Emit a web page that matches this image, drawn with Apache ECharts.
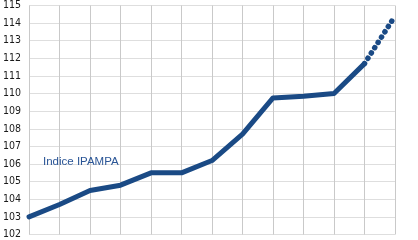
<!DOCTYPE html>
<html>
<head>
<meta charset="utf-8">
<script src="https://cdn.jsdelivr.net/npm/echarts@6/dist/echarts.min.js"></script>
<style>
html,body{margin:0;padding:0;background:#fff;}
#c{width:418px;height:240px;}
</style>
</head>
<body>
<div id="c"></div>
<script>
var categories = ["1","2","3","4","5","6","7","8","9","10","11","12","13"];
var observed = [103.0, 103.7, 104.5, 104.8, 105.5, 105.5, 106.2, 107.7, 109.75, 109.85, 110.0, 111.7, null];
var forecast = [null, null, null, null, null, null, null, null, null, null, null, 111.7, 114.4];
var seriesLabel = "Indice IPAMPA";
var yMin = 102, yMax = 115, yStep = 1;

var chart = echarts.init(document.getElementById('c'), null, {renderer:'canvas'});
chart.setOption({
  animation: false,
  backgroundColor: '#ffffff',
  grid: {left: 25, right: 23, top: 3.5, bottom: 0, containLabel: false},
  title: {
    text: seriesLabel,
    left: 43, top: 156,
    padding: 0,
    textStyle: {fontFamily: 'Liberation Sans, Arial, sans-serif', fontSize: 11.5, fontWeight: 'normal', color: '#2a5596'}
  },
  xAxis: {
    type: 'category',
    data: categories,
    boundaryGap: false,
    axisLine: {show: false},
    axisTick: {show: false},
    axisLabel: {show: false},
    splitLine: {show: true, lineStyle: {color: '#c9c9c9', width: 1}}
  },
  yAxis: {
    type: 'value',
    min: yMin, max: yMax, interval: yStep,
    axisLine: {show: false},
    axisTick: {show: false},
    axisLabel: {
      margin: 8,
      fontFamily: 'DejaVu Sans Condensed, Liberation Sans Narrow, sans-serif',
      fontSize: 10.5,
      color: '#1a1a1a'
    },
    splitLine: {show: true, lineStyle: {color: '#dedede', width: 1}}
  },
  series: [
    {
      type: 'line',
      data: observed,
      symbol: 'none',
      lineStyle: {color: '#1a4a85', width: 5, cap: 'round', join: 'round'}
    },
    {
      type: 'line',
      data: forecast,
      symbol: 'none',
      lineStyle: {color: '#1a4a85', width: 5.5, type: [0.1, 6.2], cap: 'round'}
    }
  ]
});
</script>
</body>
</html>
